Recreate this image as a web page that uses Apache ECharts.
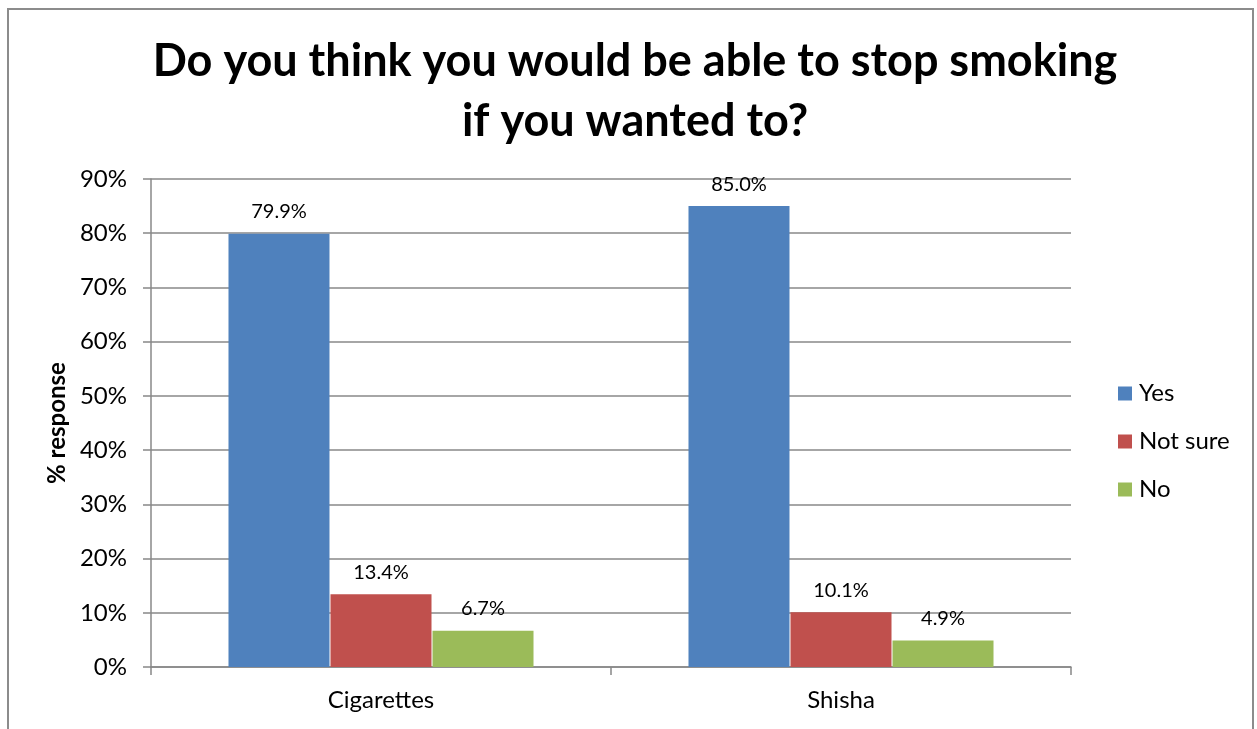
<!DOCTYPE html>
<html>
<head>
<meta charset="utf-8">
<script src="https://cdn.jsdelivr.net/npm/echarts@6/dist/echarts.min.js"></script>
<style>
  html, body { margin: 0; padding: 0; background: #fff; }
  #frame { position: absolute; left: 7px; top: 8px; width: 1247px; height: 730px; border: 2px solid #8c8c8c; box-sizing: border-box; }
  #chart { position: absolute; left: 0; top: 0; width: 1257px; height: 729px; }
</style>
</head>
<body>
<div id="frame"></div>
<div id="chart"></div>
<script>
const categories = ['Cigarettes', 'Shisha'];
const seriesNames = ['Yes', 'Not sure', 'No'];
const yesValues = [79.9, 85.0];
const notSureValues = [13.4, 10.1];
const noValues = [6.7, 4.9];
const yTicks = [0, 10, 20, 30, 40, 50, 60, 70, 80, 90];
const colors = ['#4F81BD', '#C0504D', '#9BBB59'];

const FONT = 'Lato, "Open Sans", sans-serif';
const chart = echarts.init(document.getElementById('chart'), null, { renderer: 'canvas' });

function barSeries(name, data, color) {
  return {
    name: name,
    type: 'bar',
    data: data,
    barWidth: 101,
    barGap: '1%',
    itemStyle: { color: color },
    label: {
      show: true,
      position: 'top',
      distance: 12,
      formatter: p => p.value.toFixed(1) + '%',
      fontFamily: FONT,
      fontSize: 20,
      color: '#000'
    }
  };
}

chart.setOption({
  animation: false,
  textStyle: { fontFamily: FONT },
  title: {
    text: 'Do you think you would be able to stop smoking\nif you wanted to?',
    left: 630,
    textAlign: 'center',
    top: 26,
    textStyle: { fontFamily: FONT, fontSize: 45, fontWeight: 'bold', color: '#000', lineHeight: 60 }
  },
  legend: {
    orient: 'vertical',
    left: 1113,
    top: 376,
    itemWidth: 14,
    itemHeight: 14,
    itemGap: 23,
    icon: 'rect',
    data: seriesNames,
    textStyle: { fontFamily: FONT, fontSize: 24, lineHeight: 25, color: '#000', padding: [0, 0, 0, 2] }
  },
  grid: { left: 151, right: 186, top: 179, bottom: 62 },
  xAxis: {
    type: 'category',
    data: categories,
    axisLine: { lineStyle: { color: '#888', width: 1.5 } },
    axisTick: { show: true, length: 8, lineStyle: { color: '#888', width: 1.5 } },
    axisLabel: { fontFamily: FONT, fontSize: 24, color: '#000', margin: 21 }
  },
  yAxis: {
    type: 'value',
    min: yTicks[0],
    max: yTicks[yTicks.length - 1],
    interval: 10,
    name: '% response',
    nameLocation: 'middle',
    nameGap: 82,
    nameRotate: 90,
    nameTextStyle: { fontFamily: FONT, fontSize: 24, fontWeight: 'bold', color: '#000' },
    axisLine: { show: true, lineStyle: { color: '#888', width: 1.5 } },
    axisTick: { show: true, length: 8, lineStyle: { color: '#888', width: 1.5 } },
    axisLabel: { fontFamily: FONT, fontSize: 24, color: '#000', margin: 24, formatter: v => v + '%' },
    splitLine: { lineStyle: { color: '#888', width: 1.5 } }
  },
  series: [
    barSeries(seriesNames[0], yesValues, colors[0]),
    barSeries(seriesNames[1], notSureValues, colors[1]),
    barSeries(seriesNames[2], noValues, colors[2])
  ]
});
</script>
</body>
</html>
